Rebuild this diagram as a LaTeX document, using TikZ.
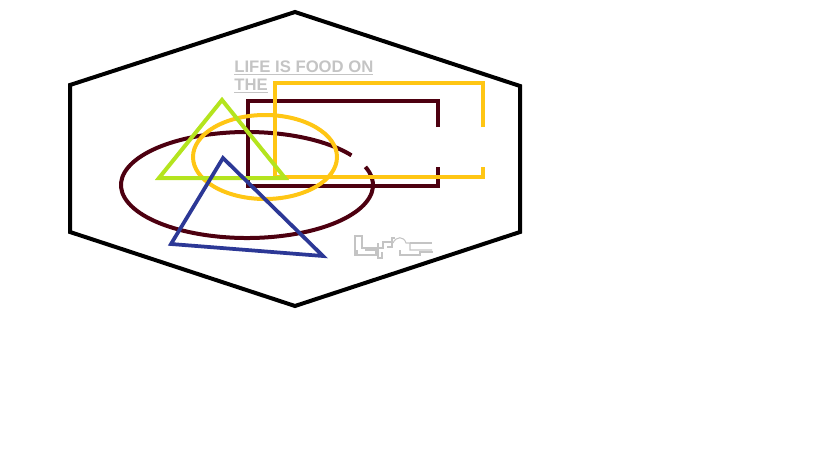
\documentclass[tikz,border=0pt]{standalone}
\usepackage{fontspec}
\setsansfont{Liberation Sans}
\usepackage{tikz}
\definecolor{hexblack}{RGB}{0, 0, 0}
\definecolor{darkmaroon}{RGB}{77, 0, 16}
\definecolor{goldyellow}{RGB}{255, 198, 20}
\definecolor{limegreen}{RGB}{180, 228, 30}
\definecolor{navyblue}{RGB}{44, 56, 150}
\definecolor{softgray}{RGB}{196, 196, 196}

\begin{document}
\begin{tikzpicture}[
    x=0.02cm, y=-0.02cm,
    shape line/.style={line width=#1, line join=miter},
    hexagon/.style={shape line=0.08cm, draw=hexblack},
    maroon/.style={shape line=0.08cm, draw=darkmaroon},
    golden/.style={shape line=0.08cm, draw=goldyellow},
    lime/.style={shape line=0.08cm, draw=limegreen},
    navy/.style={shape line=0.075cm, draw=navyblue},
    scribble/.style={draw=softgray, line width=0.6pt},
    caption/.style={text=softgray, font=\sffamily\bfseries\fontsize{9.5}{10.3}\selectfont, align=left, inner sep=0pt}
]
    \useasboundingbox (0,0) rectangle (819,460);

    % outer hexagon
    \draw[hexagon] (295,12) -- (520,86) -- (520,232) -- (295,306) -- (70,232) -- (70,85) -- cycle;

    % maroon ellipse with a gap, and open rectangle
    \draw[maroon] (247,185) ++(-20:126 and 53) arc[start angle=-20, end angle=326, x radius=126, y radius=53];
    \draw[maroon] (438,127) -- (438,101) -- (248,101) -- (248,186) -- (438,186) -- (438,167);

    % yellow open rectangle and ellipse
    \draw[golden] (483,127) -- (483,83) -- (275,83) -- (275,177) -- (483,177) -- (483,167);
    \draw[golden] (265,157) ellipse[x radius=72, y radius=42];

    % triangles
    \draw[lime] (222,100) -- (285,178) -- (159,178) -- cycle;
    \draw[navy] (223,158) -- (323,256) -- (171,244) -- cycle;

    % caption
    \node[caption, anchor=north west] (title) at (234,60) {\underline{LIFE IS FOOD ON}\\\underline{THE}};

    % signature scribble
    \draw[scribble] (355,235) -- (355,256);
    \draw[scribble] (355,236) -- (362,236) -- (362,248) -- (383,248) -- (383,242) -- (392,242);
    \draw[scribble] (357,250) -- (357,255) -- (376,255) -- (376,250) -- (365,250);
    \draw[scribble] (378,243) -- (378,258) -- (382,258) -- (382,252);
    \draw[scribble] (387,247) -- (392,247) -- (392,238) -- (395,238);
    \draw[scribble] (393,243) .. controls (396,236) and (404,236) .. (406,243) -- (410,243) -- (410,250) -- (432,250);
    \draw[scribble] (400,250) -- (400,255) -- (420,255) -- (420,252) -- (433,252);
    \draw[scribble] (410,243) -- (432,243);
\end{tikzpicture}
\end{document}
